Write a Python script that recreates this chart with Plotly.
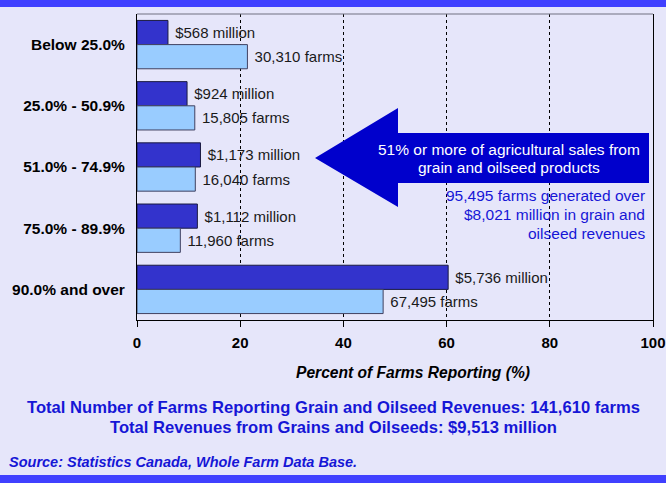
import plotly.graph_objects as go

categories = ["Below 25.0%", "25.0% - 50.9%", "51.0% - 74.9%", "75.0% - 89.9%", "90.0% and over"]
revenue_pct = [6.0, 9.7, 12.3, 11.7, 60.3]
farms_pct = [21.4, 11.2, 11.3, 8.4, 47.7]
revenue_labels = ["$568 million", "$924 million", "$1,173 million", "$1,112 million", "$5,736 million"]
farms_labels = ["30,310 farms", "15,805 farms", "16,040 farms", "11,960 farms", "67,495 farms"]
x_ticks = [0, 20, 40, 60, 80, 100]

W, H = 666, 483
L, R, T, B = 137, 13, 14, 163
PW, PH = W - L - R, H - T - B

def px(x):
    return (x - L) / PW

def py(y):
    return (H - B - y) / PH

FONT = "Liberation Sans, Arial, sans-serif"
BG = "#E6E6FA"
BLUE_TXT = "#1616D6"
NB = "\u00a0"

fig = go.Figure()
fig.add_trace(go.Bar(
    y=categories, x=revenue_pct, orientation="h", name="Revenues",
    marker=dict(color="#3333CC", line=dict(color="#1a1a40", width=1)),
    text=[NB + t for t in revenue_labels], textposition="outside", cliponaxis=False,
    textfont=dict(family=FONT, size=15, color="#1a1a1a"),
))
fig.add_trace(go.Bar(
    y=categories, x=farms_pct, orientation="h", name="Farms",
    marker=dict(color="#99CCFF", line=dict(color="#404060", width=1)),
    text=[NB + t for t in farms_labels], textposition="outside", cliponaxis=False,
    textfont=dict(family=FONT, size=15, color="#1a1a1a"),
))

shapes = [
    dict(type="rect", xref="paper", yref="paper", x0=px(0), x1=px(W), y0=py(0), y1=py(7),
         fillcolor="#4040FF", line=dict(width=0), layer="below"),
    dict(type="rect", xref="paper", yref="paper", x0=px(0), x1=px(W), y0=py(475), y1=py(H),
         fillcolor="#4040FF", line=dict(width=0), layer="below"),
    dict(type="line", xref="paper", yref="paper", x0=0, x1=1, y0=1, y1=1,
         line=dict(color="#707080", width=1)),
    dict(type="path", xref="paper", yref="paper",
         path=(f"M {px(315)},{py(158)} L {px(398)},{py(108)} L {px(398)},{py(133)} "
               f"L {px(649)},{py(133)} L {px(649)},{py(183)} L {px(398)},{py(183)} "
               f"L {px(398)},{py(207)} Z"),
         fillcolor="#0000CC", line=dict(width=0)),
]

def ann(text, x, y, size=15, color="#000", xanchor="center", bold=False, italic=False):
    if bold:
        text = f"<b>{text}</b>"
    if italic:
        text = f"<i>{text}</i>"
    return dict(text=text, x=px(x), y=py(y), xref="paper", yref="paper",
                xanchor=xanchor, yanchor="middle", showarrow=False,
                font=dict(family=FONT, size=size, color=color))

annotations = [
    ann("Percent of Farms Reporting (%)", 413, 372, size=15.6, bold=True, italic=True),
    ann("Total Number of Farms Reporting Grain and Oilseed Revenues: 141,610 farms", 333, 408,
        size=16.6, color=BLUE_TXT, bold=True),
    ann("Total Revenues from Grains and Oilseeds: $9,513 million", 333, 427,
        size=16.6, color=BLUE_TXT, bold=True),
    ann("Source: Statistics Canada, Whole Farm Data Base.", 7, 462, size=14.5,
        color=BLUE_TXT, xanchor="left", bold=True, italic=True),
    ann("51% or more of agricultural sales from", 509, 149, size=15.5, color="#FFFFFF"),
    ann("grain and oilseed products", 509, 167, size=15.5, color="#FFFFFF"),
    ann("95,495 farms generated over", 647, 195, size=15.5, color=BLUE_TXT, xanchor="right"),
    ann("$8,021 million in grain and", 647, 214, size=15.5, color=BLUE_TXT, xanchor="right"),
    ann("oilseed revenues", 647, 233, size=15.5, color=BLUE_TXT, xanchor="right"),
]

fig.update_layout(
    width=W, height=H,
    margin=dict(l=L, r=R, t=T, b=B, pad=0, autoexpand=False),
    paper_bgcolor=BG, plot_bgcolor=BG,
    barmode="group", bargap=0.21, bargroupgap=0,
    showlegend=False,
    shapes=shapes, annotations=annotations,
    font=dict(family=FONT, color="#000"),
    xaxis=dict(
        range=[0, 100], tickvals=x_ticks, ticktext=[f"<b>{v}</b>" for v in x_ticks],
        tickfont=dict(family=FONT, size=15, color="#000"),
        ticks="outside", ticklen=6, tickcolor="#000", tickwidth=1,
        ticklabelstandoff=3, ticklabeloverflow="allow",
        showline=True, linecolor="#000", linewidth=1,
        showgrid=True, gridcolor="#000", griddash="dot", gridwidth=1,
        zeroline=False, fixedrange=True, automargin=False,
    ),
    yaxis=dict(
        autorange="reversed",
        tickvals=categories, ticktext=[f"<b>{c}</b>" for c in categories],
        tickfont=dict(family=FONT, size=15.5, color="#000"),
        ticks="", ticklabelstandoff=8,
        showline=True, linecolor="#000", linewidth=1, mirror=True,
        showgrid=False, zeroline=False, fixedrange=True, automargin=False,
    ),
)

fig.write_html(
    "out.html",
    config={"displayModeBar": False},
    post_script="document.body.style.margin='0';document.body.style.overflow='hidden';",
)
